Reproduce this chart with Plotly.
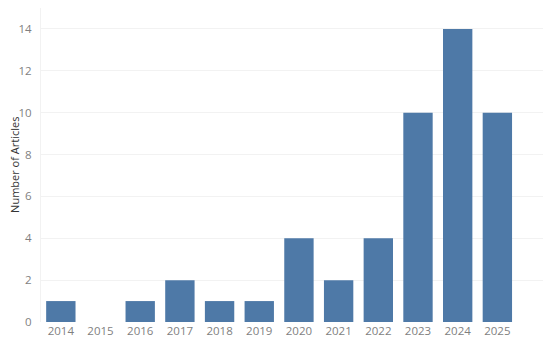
import plotly.graph_objects as go

YEARS = ["2014", "2015", "2016", "2017", "2018", "2019",
         "2020", "2021", "2022", "2023", "2024", "2025"]
ARTICLES = [1, 0, 1, 2, 1, 1, 4, 2, 4, 10, 14, 10]

BAR_COLOR = "#4E79A7"
GRID_COLOR = "#F2F2F2"
TICK_COLOR = "#7F7F7F"

fig = go.Figure(go.Bar(
    x=YEARS,
    y=ARTICLES,
    marker_color=BAR_COLOR,
    marker_line_width=0,
))

# y-axis title as an annotation so it sits where the reference has it
fig.add_annotation(
    text="Number of Articles",
    xref="paper", yref="paper",
    x=-0.054, y=0.5,
    xanchor="center", yanchor="middle",
    textangle=-90, showarrow=False,
    font=dict(size=11, color="#333333"),
)

fig.update_layout(
    width=550, height=342,
    paper_bgcolor="white",
    plot_bgcolor="white",
    font=dict(family="Open Sans, sans-serif", color=TICK_COLOR, size=11),
    margin=dict(l=41, r=7, t=8, b=20, autoexpand=False),
    bargap=0.26,
    showlegend=False,
    xaxis=dict(
        type="category",
        range=[-0.5, 12.15],
        automargin=False,
        showgrid=False,
        showline=False,
        zeroline=False,
        ticks="",
        tickfont=dict(size=11.5, color=TICK_COLOR),
    ),
    yaxis=dict(
        range=[0, 15],
        automargin=False,
        tickvals=[0, 2, 4, 6, 8, 10, 12, 14],
        showgrid=True,
        gridcolor=GRID_COLOR,
        showline=True,
        linecolor=GRID_COLOR,
        zeroline=False,
        ticks="",
        ticklabelstandoff=6,
        tickfont=dict(size=11.5, color=TICK_COLOR),
    ),
)

# the page's default body margin shifts the figure, drop it
fig.write_html("out.html", config={"displayModeBar": False},
               post_script="document.body.style.margin='0px';")
